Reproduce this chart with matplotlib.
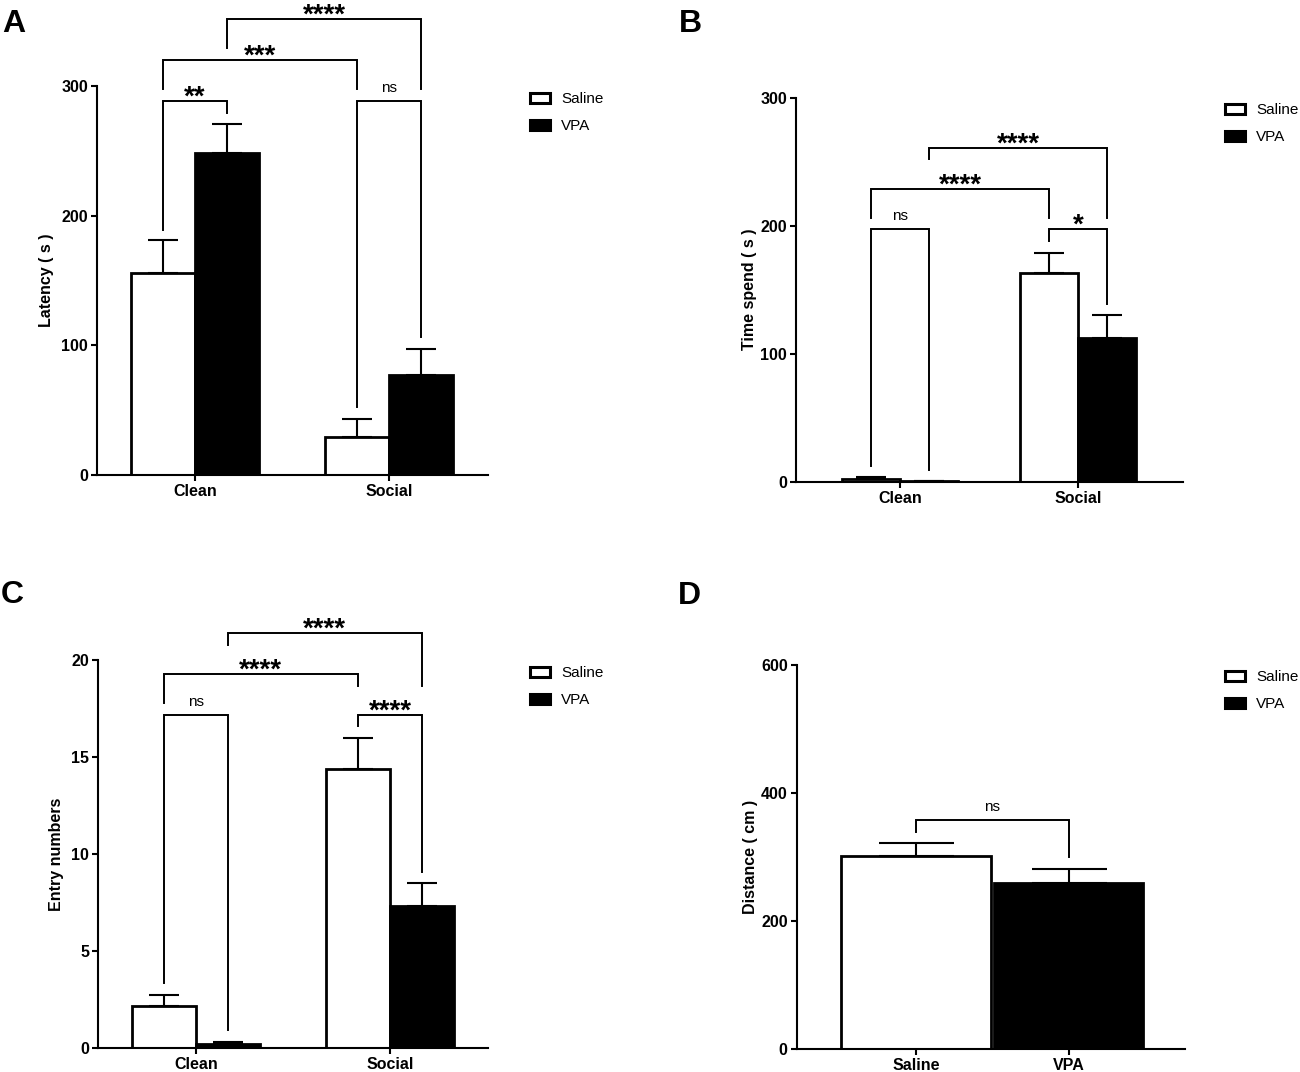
import matplotlib
matplotlib.use('Agg')
import matplotlib.pyplot as plt
from matplotlib.patches import Patch

plt.rcParams['font.family'] = ['Liberation Sans', 'DejaVu Sans']

# ---- data ----
groups = ['Saline', 'VPA']
places = ['Clean', 'Social']

# A: latency (s)
lat_saline = [155.7, 29.5]
lat_saline_sem = [25.3, 13.5]
lat_vpa = [248.5, 77.0]
lat_vpa_sem = [22.1, 20.0]

# B: time spend (s)
time_saline = [2.1, 162.8]
time_saline_sem = [1.8, 16.1]
time_vpa = [0.3, 112.0]
time_vpa_sem = [0.2, 18.2]

# C: entry numbers
entry_saline = [2.15, 14.36]
entry_saline_sem = [0.57, 1.6]
entry_vpa = [0.19, 7.33]
entry_vpa_sem = [0.12, 1.15]

# D: distance (cm)
dist = [301.6, 259.9]
dist_sem = [19.8, 21.4]

# significance brackets: (bar1, bar2, height, leg1 end, leg2 end, label)
# bars: 0 clean saline, 1 clean vpa, 2 social saline, 3 social vpa
sig_A = [(0, 1, 288.4, 188.9, 278.9, '**'),
         (2, 3, 288.4, 52.2, 106.2, 'ns'),
         (0, 2, 320.0, 297.4, 297.4, '***'),
         (1, 3, 351.6, 329.0, 297.4, '****')]
sig_B = [(0, 1, 197.2, 12.5, 9.1, 'ns'),
         (2, 3, 197.2, 188.3, 138.8, '*'),
         (0, 2, 228.4, 205.7, 205.7, '****'),
         (1, 3, 260.4, 251.8, 205.7, '****')]
sig_C = [(0, 1, 17.17, 3.32, 0.91, 'ns'),
         (2, 3, 17.17, 16.6, 9.05, '****'),
         (0, 2, 19.28, 17.77, 18.66, '****'),
         (1, 3, 21.41, 20.78, 18.66, '****')]
sig_D = [(0, 1, 357.8, 339.5, 299.5, 'ns')]

W, H = 1300, 1072
fig = plt.figure(figsize=(W / 100, H / 100), dpi=100)


def px_axes(left, top, right, bottom):
    return fig.add_axes([left / W, 1 - bottom / H, (right - left) / W, (bottom - top) / H])


def style(ax, ylabel, yticks, labx):
    for s in ['top', 'right']:
        ax.spines[s].set_visible(False)
    for s in ['left', 'bottom']:
        ax.spines[s].set_linewidth(1.5)
    ax.tick_params(width=1.5, length=4, labelsize=11.5, pad=2.5)
    ax.set_yticks(yticks)
    ax.set_ylim(yticks[0], yticks[-1])
    for lab in ax.get_xticklabels() + ax.get_yticklabels():
        lab.set_fontweight('bold')
    ax.set_ylabel(ylabel, fontsize=11.5, fontweight='bold')
    ax.yaxis.set_label_coords(labx, 0.5)


def brackets(ax, xs, sigs):
    for i, j, y, e1, e2, lab in sigs:
        x1, x2 = xs[i], xs[j]
        ax.plot([x1, x1, x2, x2], [e1, y, y, e2], color='black', lw=1.4,
                clip_on=False, solid_joinstyle='miter')
        if lab == 'ns':
            ax.annotate(lab, xy=((x1 + x2) / 2, y), xytext=(0, 6.5), textcoords='offset points',
                        ha='center', va='baseline', fontsize=11, annotation_clip=False)
        else:
            ax.annotate(lab, xy=((x1 + x2) / 2, y), xytext=(0, -2.5), textcoords='offset points',
                        ha='center', va='baseline', fontsize=20, fontweight='bold',
                        annotation_clip=False)


def legend(ax, x, y):
    handles = [Patch(facecolor='white', edgecolor='black', linewidth=2.2),
               Patch(facecolor='black', edgecolor='black', linewidth=2.2)]
    ax.legend(handles, groups, loc='upper left', bbox_to_anchor=(x / W, 1 - y / H),
              bbox_transform=fig.transFigure, frameon=False, fontsize=11,
              borderpad=0, borderaxespad=0, handlelength=1.3, handleheight=0.62,
              handletextpad=0.75, labelspacing=0.85)


def grouped(ax, sal, sal_e, vpa, vpa_e, w, xlim, ylabel, yticks, labx, sigs):
    pos = [0, 1]
    xs_sal = [p - w / 2 for p in pos]
    xs_vpa = [p + w / 2 for p in pos]
    ax.bar(xs_sal, sal, width=w, color='white', edgecolor='black', linewidth=2, zorder=2)
    ax.bar(xs_vpa, vpa, width=w, color='black', edgecolor='black', linewidth=2, zorder=2)
    ax.errorbar(xs_sal, sal, yerr=[[0, 0], sal_e], fmt='none', ecolor='black',
                elinewidth=1.5, capsize=10.5, capthick=1.5, zorder=3)
    ax.errorbar(xs_vpa, vpa, yerr=[[0, 0], vpa_e], fmt='none', ecolor='black',
                elinewidth=1.5, capsize=10.5, capthick=1.5, zorder=3)
    ax.set_xticks(pos)
    ax.set_xticklabels(places)
    ax.set_xlim(*xlim)
    style(ax, ylabel, yticks, labx)
    brackets(ax, [xs_sal[0], xs_vpa[0], xs_sal[1], xs_vpa[1]], sigs)


# A
axA = px_axes(97, 86, 488, 475)
grouped(axA, lat_saline, lat_saline_sem, lat_vpa, lat_vpa_sem, 0.33, (-0.505, 1.51),
        'Latency ( s )', [0, 100, 200, 300], -0.11, sig_A)
legend(axA, 530, 92)

# B
axB = px_axes(796, 97.7, 1183, 481.7)
grouped(axB, time_saline, time_saline_sem, time_vpa, time_vpa_sem, 0.326, (-0.584, 1.59),
        'Time spend ( s )', [0, 100, 200, 300], -0.1, sig_B)
legend(axB, 1225, 103)

# C
axC = px_axes(98.3, 660, 488, 1047.7)
grouped(axC, entry_saline, entry_saline_sem, entry_vpa, entry_vpa_sem, 0.33, (-0.502, 1.505),
        'Entry numbers', [0, 5, 10, 15, 20], -0.087, sig_C)
legend(axC, 530, 666)

# D
axD = px_axes(796.7, 665, 1184.6, 1049)
axD.bar([0, 1], dist, width=0.98, color=['white', 'black'], edgecolor='black', linewidth=2, zorder=2)
axD.errorbar([0, 1], dist, yerr=[[0, 0], dist_sem], fmt='none', ecolor='black',
             elinewidth=1.5, capsize=27, capthick=1.5, zorder=3)
axD.set_xticks([0, 1])
axD.set_xticklabels(groups)
axD.set_xlim(-0.78, 1.76)
style(axD, 'Distance ( cm )', [0, 200, 400, 600], -0.1)
brackets(axD, [0, 1], sig_D)
legend(axD, 1225, 670)

# panel letters
for lab, x, y in [('A', 2, 32), ('B', 679, 32), ('C', 1, 603), ('D', 678, 604)]:
    fig.text(x / W, 1 - y / H, lab, fontsize=23, fontweight='bold', va='baseline', ha='left')

fig.savefig('out.png', dpi=100)
